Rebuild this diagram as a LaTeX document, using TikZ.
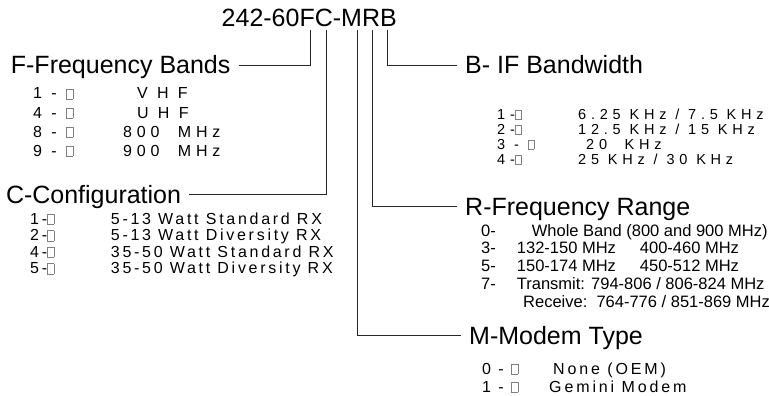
\documentclass[tikz,border=0pt]{standalone}
\usepackage{fontspec}
\setmainfont{Liberation Sans}

% small empty box after each code digit
\newcommand\gbox{{\color{gray}\fboxsep=0pt\fboxrule=0.6pt\fbox{\rule{0pt}{0.6em}\hspace{0.38em}}}}
% list fonts
\newcommand\flist{\fontsize{16}{19}\selectfont\addfontfeature{LetterSpace=30}}
\newcommand\clist{\fontsize{16}{19}\selectfont\addfontfeature{LetterSpace=17}}
\newcommand\blist{\fontsize{14.5}{17}\selectfont\addfontfeature{LetterSpace=33}}
\newcommand\rlist{\fontsize{16.5}{19}\selectfont}
\newcommand\mlist{\fontsize{16}{19}\selectfont\addfontfeature{LetterSpace=18}}

\tikzset{
  partno/.style={anchor=base west, inner sep=0pt, font=\fontsize{25}{30}\selectfont},
  head/.style={anchor=base west, inner ysep=0pt, inner xsep=8pt,
    text height=18pt, text depth=0pt, font=\fontsize{25}{30}\selectfont},
  item/.style={anchor=base west, inner sep=0pt},
  link/.style={draw=black!85, line width=0.9pt},
}

\begin{document}
\begin{tikzpicture}[x=1pt, y=-1pt]
  \useasboundingbox (0,0) rectangle (769,396);

  % Part number and the tap points under its letters
  \node[partno] (code) at (221.5,27) {242-60FC-MRB};
  \coordinate (tF) at (310,30);
  \coordinate (tC) at (326,30);
  \coordinate (tM) at (357,30);
  \coordinate (tR) at (372,30);
  \coordinate (tB) at (387,30);

  % Headings
  \node[head] (fhead) at (2.7,74) {F-Frequency Bands};
  \node[head] (chead) at (-2.2,203) {C-Configuration};
  \node[head] (bhead) at (457,74) {B- IF Bandwidth};
  \node[head] (rhead) at (457,215) {R-Frequency Range};
  \node[head] (mhead) at (461,344) {M-Modem Type};

  % Connectors
  \draw[link] (tF) |- (fhead.east);
  \draw[link] (tC) |- (chead.east);
  \draw[link] (tB) |- (bhead.west);
  \draw[link] (tR) |- (rhead.west);
  \draw[link] (tM) |- (mhead.west);

  % F list
  \foreach \k/\dx/\txt [count=\i from 0] in
    {1/137/V H F, 4/137/U H F, 8/123/800 \ MHz, 9/123/900 \ MHz} {
    \node[item, font=\flist] (fk\i) at (33,99+19*\i) {\k\ - \gbox};
    \node[item, font=\flist] (fd\i) at (\dx,99+19*\i) {\txt};
  }

  % C list
  \foreach \k/\txt [count=\i from 0] in
    {1/5-13 Watt Standard RX, 2/5-13 Watt Diversity RX,
     4/35-50 Watt Standard RX, 5/35-50 Watt Diversity RX} {
    \node[item, font=\clist] (ck\i) at (30,224+16.5*\i) {\k-\gbox};
    \node[item, font=\clist] (cd\i) at (110.7,224+16.5*\i) {\txt};
  }

  % B list
  \foreach \k/\dx/\txt [count=\i from 0] in
    {{1-}/578/{6.25 KHz / 7.5 KHz}, {2-}/578/{12.5 KHz / 15 KHz},
     {3 - }/586/{20 \ KHz}, {4-}/578/{25 KHz / 30 KHz}} {
    \node[item, font=\blist] (bk\i) at (497,119+15*\i) {\k\gbox};
    \node[item, font=\blist] (bd\i) at (\dx,119+15*\i) {\txt};
  }

  % R list
  \foreach \k/\dx/\txt [count=\i from 0] in
    {0-/531.7/Whole Band (800 and 900 MHz),
     3-/516.7/132-150 MHz\hspace{24pt}400-460 MHz,
     5-/516.7/150-174 MHz\hspace{24pt}450-512 MHz,
     7-/516.7/{Transmit: 794-806 / 806-824 MHz},
     {}/523/{Receive:\ \ 764-776 / 851-869 MHz}} {
    \node[item, font=\rlist] (rk\i) at (481,236+17.9*\i) {\k};
    \node[item, font=\rlist] (rd\i) at (\dx,236+17.9*\i) {\txt};
  }

  % M list
  \foreach \k/\dx/\txt [count=\i from 0] in
    {0/553/None (OEM), 1/549/Gemini Modem} {
    \node[item, font=\mlist] (mk\i) at (482,374+18*\i) {\k\ - \gbox};
    \node[item, font=\mlist] (md\i) at (\dx,374+18*\i) {\txt};
  }
\end{tikzpicture}
\end{document}
